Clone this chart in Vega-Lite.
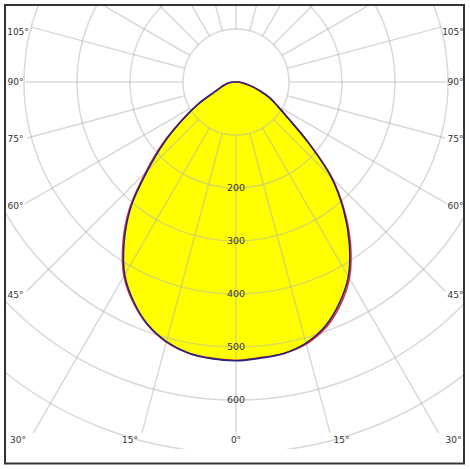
{
  "$schema": "https://vega.github.io/schema/vega-lite/v6.json",
  "width": 459,
  "height": 444,
  "autosize": "none",
  "padding": {"left": 5, "top": 5, "right": 6, "bottom": 20},
  "background": "white",
  "config": {"view": {"stroke": null}},
  "datasets": {
    "curves": [
      {"c": "C0-180", "a": -180, "cd": 0},
      {"c": "C0-180", "a": -90, "cd": 6}, {"c": "C0-180", "a": -85, "cd": 12}, {"c": "C0-180", "a": -80, "cd": 18},
      {"c": "C0-180", "a": -75, "cd": 24}, {"c": "C0-180", "a": -70, "cd": 32}, {"c": "C0-180", "a": -65, "cd": 46},
      {"c": "C0-180", "a": -60, "cd": 80}, {"c": "C0-180", "a": -55, "cd": 121}, {"c": "C0-180", "a": -50, "cd": 176},
      {"c": "C0-180", "a": -45, "cd": 236}, {"c": "C0-180", "a": -40, "cd": 309}, {"c": "C0-180", "a": -35, "cd": 368},
      {"c": "C0-180", "a": -30, "cd": 420}, {"c": "C0-180", "a": -25, "cd": 457}, {"c": "C0-180", "a": -20, "cd": 487},
      {"c": "C0-180", "a": -15, "cd": 507}, {"c": "C0-180", "a": -10, "cd": 519}, {"c": "C0-180", "a": -5, "cd": 524},
      {"c": "C0-180", "a": 0, "cd": 526}, {"c": "C0-180", "a": 5, "cd": 523}, {"c": "C0-180", "a": 10, "cd": 520},
      {"c": "C0-180", "a": 15, "cd": 510}, {"c": "C0-180", "a": 20, "cd": 491}, {"c": "C0-180", "a": 25, "cd": 461},
      {"c": "C0-180", "a": 30, "cd": 424}, {"c": "C0-180", "a": 35, "cd": 373}, {"c": "C0-180", "a": 40, "cd": 316},
      {"c": "C0-180", "a": 45, "cd": 254}, {"c": "C0-180", "a": 50, "cd": 178}, {"c": "C0-180", "a": 55, "cd": 121},
      {"c": "C0-180", "a": 60, "cd": 91}, {"c": "C0-180", "a": 65, "cd": 70}, {"c": "C0-180", "a": 70, "cd": 48},
      {"c": "C0-180", "a": 75, "cd": 30}, {"c": "C0-180", "a": 80, "cd": 18}, {"c": "C0-180", "a": 85, "cd": 10},
      {"c": "C0-180", "a": 90, "cd": 5},
      {"c": "C0-180", "a": 180, "cd": 0},
      {"c": "C90-270", "a": -180, "cd": 0},
      {"c": "C90-270", "a": -90, "cd": 5}, {"c": "C90-270", "a": -85, "cd": 10}, {"c": "C90-270", "a": -80, "cd": 16},
      {"c": "C90-270", "a": -75, "cd": 22}, {"c": "C90-270", "a": -70, "cd": 30}, {"c": "C90-270", "a": -65, "cd": 45},
      {"c": "C90-270", "a": -60, "cd": 80}, {"c": "C90-270", "a": -55, "cd": 123}, {"c": "C90-270", "a": -50, "cd": 180},
      {"c": "C90-270", "a": -45, "cd": 241}, {"c": "C90-270", "a": -40, "cd": 313}, {"c": "C90-270", "a": -35, "cd": 372},
      {"c": "C90-270", "a": -30, "cd": 423}, {"c": "C90-270", "a": -25, "cd": 459}, {"c": "C90-270", "a": -20, "cd": 488},
      {"c": "C90-270", "a": -15, "cd": 508}, {"c": "C90-270", "a": -10, "cd": 519}, {"c": "C90-270", "a": -5, "cd": 523},
      {"c": "C90-270", "a": 0, "cd": 525}, {"c": "C90-270", "a": 5, "cd": 522}, {"c": "C90-270", "a": 10, "cd": 520},
      {"c": "C90-270", "a": 15, "cd": 512}, {"c": "C90-270", "a": 20, "cd": 494}, {"c": "C90-270", "a": 25, "cd": 465},
      {"c": "C90-270", "a": 30, "cd": 428}, {"c": "C90-270", "a": 35, "cd": 377}, {"c": "C90-270", "a": 40, "cd": 319},
      {"c": "C90-270", "a": 45, "cd": 257}, {"c": "C90-270", "a": 50, "cd": 180}, {"c": "C90-270", "a": 55, "cd": 122},
      {"c": "C90-270", "a": 60, "cd": 90}, {"c": "C90-270", "a": 65, "cd": 68}, {"c": "C90-270", "a": 70, "cd": 46},
      {"c": "C90-270", "a": 75, "cd": 28}, {"c": "C90-270", "a": 80, "cd": 16}, {"c": "C90-270", "a": 85, "cd": 9},
      {"c": "C90-270", "a": 90, "cd": 4},
      {"c": "C90-270", "a": 180, "cd": 0}
    ],
    "circles": [{"r": 100}, {"r": 200}, {"r": 300}, {"r": 400}, {"r": 500}, {"r": 600}, {"r": 700}],
    "rays": [
      {"a": 0, "r1": 100, "r2": 662},
      {"a": 15, "r1": 100, "r2": 685}, {"a": -15, "r1": 100, "r2": 685},
      {"a": 30, "r1": 100, "r2": 765}, {"a": -30, "r1": 100, "r2": 765},
      {"a": 45, "r1": 100, "r2": 558}, {"a": -45, "r1": 100, "r2": 558},
      {"a": 60, "r1": 100, "r2": 460}, {"a": -60, "r1": 100, "r2": 460},
      {"a": 75, "r1": 100, "r2": 408}, {"a": -75, "r1": 100, "r2": 408},
      {"a": 90, "r1": 100, "r2": 398}, {"a": -90, "r1": 100, "r2": 398},
      {"a": 105, "r1": 100, "r2": 400}, {"a": -105, "r1": 100, "r2": 400},
      {"a": 120, "r1": 100, "r2": 1000}, {"a": -120, "r1": 100, "r2": 1000},
      {"a": 135, "r1": 100, "r2": 1000}, {"a": -135, "r1": 100, "r2": 1000},
      {"a": 150, "r1": 100, "r2": 1000}, {"a": -150, "r1": 100, "r2": 1000},
      {"a": 165, "r1": 100, "r2": 1000}, {"a": -165, "r1": 100, "r2": 1000},
      {"a": 180, "r1": 100, "r2": 1000}
    ],
    "angleLabels": [
      {"t": "105°", "x": -411.3, "y": 94.3}, {"t": "90°", "x": -416, "y": 0}, {"t": "75°", "x": -416, "y": -107.5},
      {"t": "60°", "x": -416, "y": -234}, {"t": "45°", "x": -416, "y": -402.8},
      {"t": "105°", "x": 409.4, "y": 94.3}, {"t": "90°", "x": 414.2, "y": 0}, {"t": "75°", "x": 414.2, "y": -107.5},
      {"t": "60°", "x": 414.2, "y": -234}, {"t": "45°", "x": 414.2, "y": -402.8},
      {"t": "30°", "x": -411.3, "y": -675.5}, {"t": "15°", "x": -200, "y": -675.5}, {"t": "0°", "x": 0, "y": -675.5},
      {"t": "15°", "x": 199, "y": -675.5}, {"t": "30°", "x": 410.4, "y": -675.5}
    ]
  },
  "layer": [
    {
      "data": {"name": "curves"},
      "transform": [
        {"filter": "datum.c === 'C0-180'"},
        {"calculate": "datum.cd * sin(datum.a * PI / 180)", "as": "x"},
        {"calculate": "-datum.cd * cos(datum.a * PI / 180)", "as": "y"}
      ],
      "mark": {"type": "line", "filled": true, "fill": "#ffff00", "strokeOpacity": 0, "interpolate": "catmull-rom", "clip": true},
      "encoding": {
        "x": {"field": "x", "type": "quantitative", "scale": {"domain": [-435.85, 430.19], "nice": false, "zero": false}, "axis": null},
        "y": {"field": "y", "type": "quantitative", "scale": {"domain": [-692.45, 145.28], "nice": false, "zero": false}, "axis": null},
        "order": {"field": "a", "type": "quantitative"}
      }
    },
    {
      "data": {"name": "circles"},
      "mark": {"type": "point", "shape": "circle", "filled": false, "stroke": "#b4b4b4", "strokeWidth": 1.5, "opacity": 1, "strokeOpacity": 0.5, "clip": true},
      "encoding": {
        "x": {"datum": 0, "type": "quantitative", "scale": {"domain": [-435.85, 430.19], "nice": false, "zero": false}, "axis": null},
        "y": {"datum": 0, "type": "quantitative", "scale": {"domain": [-692.45, 145.28], "nice": false, "zero": false}, "axis": null},
        "size": {"field": "r", "type": "quantitative", "scale": {"type": "pow", "exponent": 2, "domain": [0, 700], "range": [0, 550564]}, "legend": null}
      }
    },
    {
      "data": {"name": "rays"},
      "transform": [
        {"calculate": "datum.r1 * sin(datum.a * PI / 180)", "as": "x"},
        {"calculate": "-datum.r1 * cos(datum.a * PI / 180)", "as": "y"},
        {"calculate": "datum.r2 * sin(datum.a * PI / 180)", "as": "x2"},
        {"calculate": "-datum.r2 * cos(datum.a * PI / 180)", "as": "y2"}
      ],
      "mark": {"type": "rule", "stroke": "#b4b4b4", "strokeWidth": 1.5, "strokeOpacity": 0.5, "clip": true},
      "encoding": {
        "x": {"field": "x", "type": "quantitative", "scale": {"domain": [-435.85, 430.19], "nice": false, "zero": false}, "axis": null},
        "y": {"field": "y", "type": "quantitative", "scale": {"domain": [-692.45, 145.28], "nice": false, "zero": false}, "axis": null},
        "x2": {"field": "x2"},
        "y2": {"field": "y2"}
      }
    },
    {
      "data": {"name": "curves"},
      "transform": [
        {"filter": "datum.c === 'C90-270'"},
        {"calculate": "datum.cd * sin(datum.a * PI / 180)", "as": "x"},
        {"calculate": "-datum.cd * cos(datum.a * PI / 180)", "as": "y"}
      ],
      "mark": {"type": "line", "stroke": "#e3303f", "strokeWidth": 1.6, "interpolate": "catmull-rom", "clip": true},
      "encoding": {
        "x": {"field": "x", "type": "quantitative", "scale": {"domain": [-435.85, 430.19], "nice": false, "zero": false}, "axis": null},
        "y": {"field": "y", "type": "quantitative", "scale": {"domain": [-692.45, 145.28], "nice": false, "zero": false}, "axis": null},
        "order": {"field": "a", "type": "quantitative"}
      }
    },
    {
      "data": {"name": "curves"},
      "transform": [
        {"filter": "datum.c === 'C0-180'"},
        {"calculate": "datum.cd * sin(datum.a * PI / 180)", "as": "x"},
        {"calculate": "-datum.cd * cos(datum.a * PI / 180)", "as": "y"}
      ],
      "mark": {"type": "line", "stroke": "#24247a", "strokeWidth": 1.6, "interpolate": "catmull-rom", "clip": true},
      "encoding": {
        "x": {"field": "x", "type": "quantitative", "scale": {"domain": [-435.85, 430.19], "nice": false, "zero": false}, "axis": null},
        "y": {"field": "y", "type": "quantitative", "scale": {"domain": [-692.45, 145.28], "nice": false, "zero": false}, "axis": null},
        "order": {"field": "a", "type": "quantitative"}
      }
    },
    {
      "data": {"name": "circles"},
      "transform": [
        {"filter": "datum.r >= 200 && datum.r <= 600"},
        {"calculate": "-datum.r", "as": "y"}
      ],
      "mark": {"type": "text", "font": "DejaVu Sans", "fontSize": 9.5, "fill": "#333333", "align": "center", "baseline": "middle"},
      "encoding": {
        "x": {"datum": 0, "type": "quantitative", "scale": {"domain": [-435.85, 430.19], "nice": false, "zero": false}, "axis": null},
        "y": {"field": "y", "type": "quantitative", "scale": {"domain": [-692.45, 145.28], "nice": false, "zero": false}, "axis": null},
        "text": {"field": "r", "type": "quantitative", "format": "d"}
      }
    },
    {
      "data": {"name": "angleLabels"},
      "mark": {"type": "text", "font": "DejaVu Sans", "fontSize": 9, "fill": "#333333", "align": "center", "baseline": "middle"},
      "encoding": {
        "x": {"field": "x", "type": "quantitative", "scale": {"domain": [-435.85, 430.19], "nice": false, "zero": false}, "axis": null},
        "y": {"field": "y", "type": "quantitative", "scale": {"domain": [-692.45, 145.28], "nice": false, "zero": false}, "axis": null},
        "text": {"field": "t", "type": "nominal"}
      }
    },
    {
      "data": {"values": [{}]},
      "mark": {"type": "rect", "filled": false, "stroke": "#333333", "strokeWidth": 2, "clip": false},
      "encoding": {
        "x": {"datum": -435.85, "type": "quantitative", "scale": {"domain": [-435.85, 430.19], "nice": false, "zero": false}, "axis": null},
        "x2": {"datum": 430.19},
        "y": {"datum": 145.28, "type": "quantitative", "scale": {"domain": [-692.45, 145.28], "nice": false, "zero": false}, "axis": null},
        "y2": {"datum": -719.8}
      }
    }
  ]
}
